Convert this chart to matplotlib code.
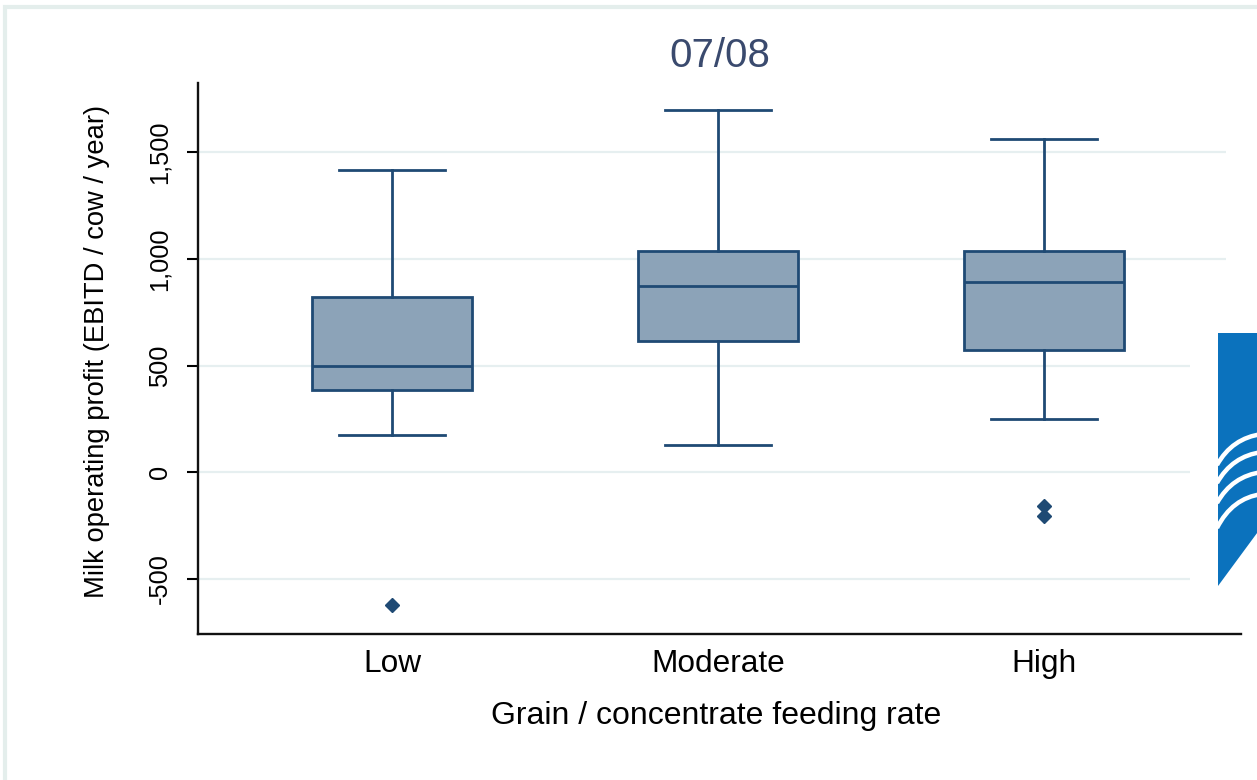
import matplotlib
matplotlib.use("Agg")
import matplotlib.pyplot as plt
from matplotlib import font_manager
from matplotlib.patches import Rectangle, Polygon, PathPatch
from matplotlib.path import Path

# ---- data ----
categories = ["Low", "Moderate", "High"]
whisker_low = [175, 128, 250]
q1 = [386, 616, 574]
median = [498, 873, 893]
q3 = [822, 1037, 1037]
whisker_high = [1417, 1699, 1562]
outliers = [[-622], [], [-160, -207]]
yticks = [-500, 0, 500, 1000, 1500]
ytick_labels = ["-500", "0", "500", "1,000", "1,500"]
title = "07/08"
xlabel = "Grain / concentrate feeding rate"
ylabel = "Milk operating profit (EBITD / cow / year)"

names = {f.name for f in font_manager.fontManager.ttflist}
main_font = "Liberation Sans" if "Liberation Sans" in names else "DejaVu Sans"
narrow_font = "Liberation Sans Narrow" if "Liberation Sans Narrow" in names else main_font
narrow_scale = 1.0 if narrow_font == "Liberation Sans Narrow" else 0.82

W, H = 1257, 780
fig = plt.figure(figsize=(W / 100, H / 100), dpi=100)
fig.patch.set_facecolor("white")

left, right, top, bottom = 198, 1241, 83, 634
ax = fig.add_axes([left / W, 1 - bottom / H, (right - left) / W, (bottom - top) / H])

navy = "#1f4a74"
face = "#8ca3b8"

stats = []
for i, c in enumerate(categories):
    stats.append(dict(label=c, whislo=whisker_low[i], q1=q1[i], med=median[i],
                      q3=q3[i], whishi=whisker_high[i], fliers=outliers[i]))

positions = list(range(1, len(categories) + 1))
ax.bxp(stats, positions=positions, widths=0.49, capwidths=[0.325] * 3,
       patch_artist=True, showfliers=True,
       boxprops=dict(facecolor=face, edgecolor=navy, linewidth=2.0),
       medianprops=dict(color=navy, linewidth=2.0),
       whiskerprops=dict(color=navy, linewidth=2.0),
       capprops=dict(color=navy, linewidth=2.0),
       flierprops=dict(marker="D", markersize=7.5, markerfacecolor=navy,
                       markeredgecolor=navy, linestyle="none"))

ax.set_xlim(0.405, 3.604)
ax.set_ylim(-758, 1825)

ax.set_yticks(yticks)
ax.set_yticklabels(ytick_labels, rotation=90, va="center",
                   fontfamily=narrow_font, fontsize=22.3 * narrow_scale)
ax.set_xticks(positions)
ax.set_xticklabels(categories, fontfamily=main_font, fontsize=22.8)
ax.tick_params(axis="x", length=0, pad=11, colors="black")
ax.tick_params(axis="y", length=8, width=1.5, pad=11, colors="black")

ax.grid(axis="y", color="#e6eff0", linewidth=1.6)
ax.set_axisbelow(True)

for s in ["top", "right"]:
    ax.spines[s].set_visible(False)
for s in ["left", "bottom"]:
    ax.spines[s].set_linewidth(1.7)
    ax.spines[s].set_color("#111111")

ax.set_xlabel(xlabel, fontfamily=main_font, fontsize=23)
ax.xaxis.set_label_coords(0.4965, -0.122)
ax.set_ylabel(ylabel, fontfamily=narrow_font, fontsize=24 * narrow_scale)
ax.yaxis.set_label_coords(-0.0844, 0.512)

ax.set_title(title, fontfamily=main_font, fontsize=29, color="#3a4a6e",
             y=1.029, pad=0)

# ---- decoration: light frame and partial logo ----
def fx(x):
    return x / W

def fy(y):
    return 1 - y / H

fig.patches.append(Rectangle((fx(5), fy(790)), fx(1300) - fx(5), fy(7) - fy(790),
                             transform=fig.transFigure, fill=False,
                             edgecolor="#e4eeec", linewidth=3, zorder=0))
# white margin at the right edge of the plot (grid lines stop short of it)
fig.patches.append(Rectangle((fx(1226), fy(290)), fx(1260) - fx(1226), fy(100) - fy(290),
                             transform=fig.transFigure, facecolor="white",
                             edgecolor="none", zorder=5))
fig.patches.append(Rectangle((fx(1190), fy(600)), fx(1260) - fx(1190), fy(290) - fy(600),
                             transform=fig.transFigure, facecolor="white",
                             edgecolor="none", zorder=5))
logo = Polygon([(fx(1218), fy(333)), (fx(1260), fy(333)), (fx(1260), fy(529)),
                (fx(1218), fy(586))], closed=True, transform=fig.transFigure,
               facecolor="#0b72bd", edgecolor="none", zorder=6)
fig.patches.append(logo)
left_ys = [465, 483, 503, 528]
right_ys = [434, 452, 472, 494]
for yl, yr in zip(left_ys, right_ys):
    p = Path([(fx(1217), fy(yl)), (fx(1232), fy(yr + 4)), (fx(1262), fy(yr))],
             [Path.MOVETO, Path.CURVE3, Path.CURVE3])
    pp = PathPatch(p, transform=fig.transFigure, facecolor="none",
                   edgecolor="white", linewidth=3.2, zorder=7)
    fig.patches.append(pp)
    pp.set_clip_path(logo)

fig.savefig("out.png", dpi=100)
